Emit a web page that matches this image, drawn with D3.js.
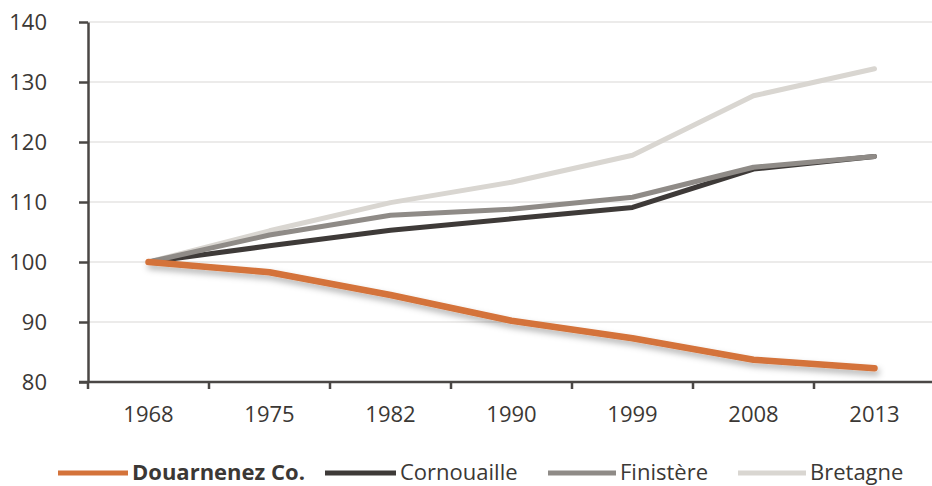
<!DOCTYPE html>
<html>
<head>
<meta charset="utf-8">
<script src="https://cdn.jsdelivr.net/npm/d3@7"></script>
<style>
  html, body { margin: 0; padding: 0; background: #ffffff; }
  svg { display: block; }
  text { font-family: "Open Sans", "Noto Sans", sans-serif; fill: #3b3835; }
</style>
</head>
<body>
<svg id="chart" width="932" height="486"></svg>
<script>
// Population index (base 100 in 1968)
const years = ["1968", "1975", "1982", "1990", "1999", "2008", "2013"];
const douarnenez = [100, 98.3, 94.5, 90.2, 87.3, 83.7, 82.3];
const cornouaille = [100, 102.7, 105.3, 107.2, 109.1, 115.5, 117.6];
const finistere = [100, 104.5, 107.8, 108.8, 110.8, 115.8, 117.6];
const bretagne = [100, 105.2, 109.9, 113.3, 117.8, 127.7, 132.2];
const yTicks = [80, 90, 100, 110, 120, 130, 140];

const seriesNames = ["Douarnenez Co.", "Cornouaille", "Finistère", "Bretagne"];
const seriesValues = [douarnenez, cornouaille, finistere, bretagne];
const seriesColors = ["#d4733a", "#3e3a38", "#8f8b87", "#d9d6d1"];
const seriesWidths = [6.5, 5, 5, 5];
// Back-to-front drawing order
const drawOrder = [3, 1, 2, 0];

const svg = d3.select("#chart");

const defs = svg.append("defs");
const shadow = defs.append("filter")
  .attr("id", "shadow")
  .attr("x", "-10%").attr("y", "-50%")
  .attr("width", "120%").attr("height", "200%");
shadow.append("feDropShadow")
  .attr("dx", 2).attr("dy", 4)
  .attr("stdDeviation", 3)
  .attr("flood-color", "#000")
  .attr("flood-opacity", 0.3);

const plotLeft = 88, plotRight = 935, plotTop = 22, plotBottom = 382;

const x = d3.scaleBand().domain(years).range([plotLeft, plotRight]);
const y = d3.scaleLinear().domain([80, 140]).range([plotBottom, plotTop]);

// Horizontal gridlines
svg.append("g")
  .selectAll("line")
  .data(yTicks.filter(d => d > 80))
  .join("line")
  .attr("x1", plotLeft).attr("x2", 932)
  .attr("y1", d => y(d)).attr("y2", d => y(d))
  .attr("stroke", "#e6e5e3")
  .attr("stroke-width", 1.5);

// Y axis
const yAxis = svg.append("g")
  .attr("transform", `translate(${plotLeft},0)`)
  .call(d3.axisLeft(y).tickValues(yTicks).tickSize(9).tickPadding(32).tickSizeOuter(0));
yAxis.select(".domain").attr("stroke", "#4a4745").attr("stroke-width", 2.5);
yAxis.selectAll(".tick line").attr("stroke", "#4a4745").attr("stroke-width", 2.5);
yAxis.selectAll(".tick text")
  .attr("font-size", 22)
  .attr("font-family", "'Open Sans', sans-serif")
  .attr("fill", "#3b3835");

// X axis: baseline with ticks at category boundaries
const xg = svg.append("g");
xg.append("line")
  .attr("x1", plotLeft - 9).attr("x2", 932)
  .attr("y1", y(80)).attr("y2", y(80))
  .attr("stroke", "#4a4745").attr("stroke-width", 2.5);
xg.selectAll("line.tick")
  .data(years)
  .join("line")
  .attr("class", "tick")
  .attr("x1", d => x(d)).attr("x2", d => x(d))
  .attr("y1", y(80)).attr("y2", y(80) + 7)
  .attr("stroke", "#4a4745").attr("stroke-width", 2.5);
xg.selectAll("text")
  .data(years)
  .join("text")
  .attr("x", d => x(d) + x.bandwidth() / 2)
  .attr("y", y(80) + 40)
  .attr("text-anchor", "middle")
  .attr("font-size", 22)
  .text(d => d);

// Series lines
const line = d3.line()
  .x((d, i) => x(years[i]) + x.bandwidth() / 2)
  .y(d => y(d));

svg.append("g")
  .selectAll("path")
  .data(drawOrder)
  .join("path")
  .attr("d", i => line(seriesValues[i]))
  .attr("fill", "none")
  .attr("stroke", i => seriesColors[i])
  .attr("stroke-width", i => seriesWidths[i])
  .attr("stroke-linecap", "round")
  .attr("stroke-linejoin", "round")
  .attr("filter", i => i === 0 ? "url(#shadow)" : null);

// Legend
const legendItems = [
  { lx: 58, tx: 132 },
  { lx: 325, tx: 400 },
  { lx: 548, tx: 620 },
  { lx: 738, tx: 810 }
];
const legend = svg.append("g");
legendItems.forEach((p, i) => {
  legend.append("line")
    .attr("x1", p.lx).attr("x2", p.tx - 4)
    .attr("y1", 473).attr("y2", 473)
    .attr("stroke", seriesColors[i])
    .attr("stroke-width", 5);
  legend.append("text")
    .attr("x", p.tx)
    .attr("y", 480)
    .attr("font-size", 22)
    .attr("font-weight", i === 0 ? "bold" : "normal")
    .text(seriesNames[i]);
});
</script>
</body>
</html>
